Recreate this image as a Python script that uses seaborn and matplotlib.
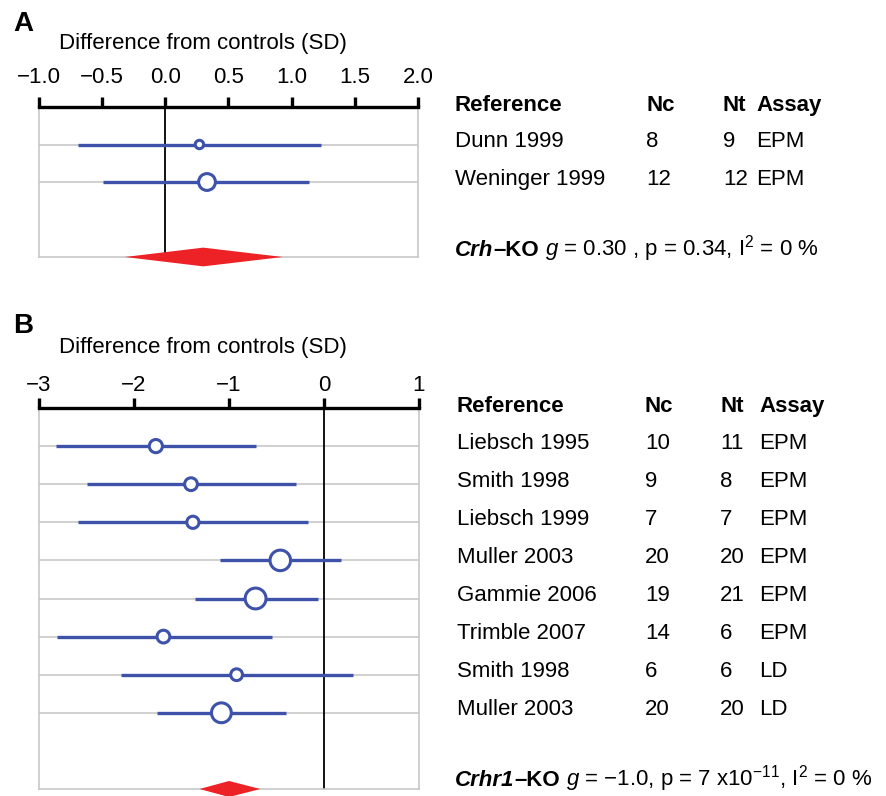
import matplotlib
matplotlib.use("Agg")
import matplotlib.pyplot as plt
import matplotlib.transforms as mtransforms
import numpy as np
import pandas as pd
import seaborn as sns

# Panel A: Crh-KO
refs_a = ["Dunn 1999", "Weninger 1999"]
nc_a = [8, 12]
nt_a = [9, 12]
assay_a = ["EPM", "EPM"]
g_a = [0.27, 0.33]
lo_a = [-0.69, -0.49]
hi_a = [1.235, 1.14]
w_a = [20, 80]                 # relative weight (%)
pooled_a = (-0.32, 0.30, 0.93)  # lower, g, upper
ticks_a = [-1.0, -0.5, 0.0, 0.5, 1.0, 1.5, 2.0]
ticklabels_a = ["\u22121.0", "\u22120.5", "0.0", "0.5", "1.0", "1.5", "2.0"]

# Panel B: Crhr1-KO
refs_b = ["Liebsch 1995", "Smith 1998", "Liebsch 1999", "Muller 2003",
          "Gammie 2006", "Trimble 2007", "Smith 1998", "Muller 2003"]
nc_b = [10, 9, 7, 20, 19, 14, 6, 20]
nt_b = [11, 8, 7, 20, 21, 6, 6, 20]
assay_b = ["EPM", "EPM", "EPM", "EPM", "EPM", "EPM", "LD", "LD"]
g_b = [-1.77, -1.40, -1.38, -0.46, -0.72, -1.69, -0.92, -1.08]
lo_b = [-2.82, -2.49, -2.59, -1.10, -1.36, -2.81, -2.14, -1.76]
hi_b = [-0.72, -0.29, -0.17, 0.18, -0.06, -0.55, 0.31, -0.40]
w_b = [8.5, 8.0, 7.3, 20.7, 21.3, 8.0, 6.8, 19.3]
pooled_b = (-1.31, -1.00, -0.67)
ticks_b = [-3, -2, -1, 0, 1]
ticklabels_b = ["\u22123", "\u22122", "\u22121", "0", "1"]

BLUE = "#3d52a8"
RED = "#ed2226"
GRID = "#c4c4c4"

sns.set_theme(style="white")
plt.rcParams['font.family'] = ['Liberation Sans', 'DejaVu Sans']
plt.rcParams['text.color'] = 'black'
plt.rcParams['xtick.color'] = 'black'
plt.rcParams['mathtext.fontset'] = 'custom'
plt.rcParams['mathtext.rm'] = 'Liberation Sans'
plt.rcParams['mathtext.it'] = 'Liberation Sans:italic'
plt.rcParams['mathtext.bf'] = 'Liberation Sans:bold'

W, H = 886, 796
fig = plt.figure(figsize=(W / 100, H / 100), dpi=100)


def axes_px(left, top, right, bottom):
    return fig.add_axes([left / W, 1 - bottom / H, (right - left) / W, (bottom - top) / H])


def forest(ax, g, lo, hi, w, wscale, pooled, xlim, ticks, ticklabels, pad, dh):
    n = len(g)
    rows = np.arange(1, n + 1)
    ax.hlines(rows, xlim[0], xlim[1], color=GRID, lw=1.1, zorder=0)
    ax.axvline(0, color='black', lw=1.3, zorder=1)
    ax.hlines(rows, lo, hi, color=BLUE, lw=2.4, zorder=2)
    df = pd.DataFrame({'g': g, 'row': rows, 'w': w})
    sns.scatterplot(data=df, x='g', y='row', size='w', sizes=(0, 100 * wscale),
                    size_norm=(0, 100), facecolor='white', edgecolor=BLUE,
                    linewidth=2.2, legend=False, zorder=3, ax=ax)
    # pooled estimate diamond on the bottom line
    yb = n + 2
    ax.fill([pooled[0], pooled[1], pooled[2], pooled[1]], [yb, yb - dh, yb, yb + dh],
            color=RED, lw=0, zorder=4, clip_on=False)
    ax.set_xlim(xlim)
    ax.set_ylim(n + 2, 0)
    ax.set_xlabel('')
    ax.set_ylabel('')
    ax.set_yticks([])
    ax.set_xticks(ticks)
    ax.set_xticklabels(ticklabels)
    ax.xaxis.set_ticks_position('top')
    ax.tick_params(axis='x', direction='out', length=7.2, width=2.4, color='black',
                   labelsize=16, pad=pad, top=True, bottom=False,
                   labeltop=True, labelbottom=False)
    for s in ['left', 'right', 'bottom']:
        ax.spines[s].set(color=GRID, lw=1.1, visible=True)
    ax.spines['top'].set(color='black', lw=2.4, visible=True, zorder=5)


def table(ax, refs, nc, nt, assay, cols):
    tr = mtransforms.blended_transform_factory(fig.transFigure, ax.transData)
    for x, h in zip(cols, ["Reference", "Nc", "Nt", "Assay"]):
        ax.text(x / W, 0.1, h, transform=tr, fontsize=16, fontweight='bold', va='baseline')
    for i, vals in enumerate(zip(refs, nc, nt, assay)):
        for x, v in zip(cols, vals):
            ax.text(x / W, i + 1.07, str(v), transform=tr, fontsize=16, va='baseline')


def rich(x, y, parts):
    r = fig.canvas.get_renderer()
    x = x / W
    for s, weight, style in parts:
        t = fig.text(x, 1 - y / H, s, fontsize=16, fontweight=weight, fontstyle=style, va='baseline')
        bb = t.get_window_extent(r)
        x = bb.x1 / W


# Panel A
ax_a = axes_px(39, 107, 418, 257)
forest(ax_a, g_a, lo_a, hi_a, w_a, 1.83, pooled_a, (-1.0, 2.0), ticks_a, ticklabels_a, 6.7, 0.25)
table(ax_a, refs_a, nc_a, nt_a, assay_a, [455, 646, 723, 756])
fig.text(13 / W, 1 - 31 / H, "A", fontsize=20, fontweight='bold', va='baseline')
fig.text(59 / W, 1 - 49 / H, "Difference from controls (SD)", fontsize=16, va='baseline')
rich(455, 256, [("Crh", 'bold', 'italic'), ("\u2013KO", 'bold', 'normal'),
                (" $g$ = 0.30 , p = 0.34, I$^{2}$ = 0 %", 'normal', 'normal')])

# Panel B
ax_b = axes_px(39, 408, 419, 789)
forest(ax_b, g_b, lo_b, hi_b, w_b, 10.57, pooled_b, (-3, 1), ticks_b, ticklabels_b, 1.2, 0.21)
table(ax_b, refs_b, nc_b, nt_b, assay_b, [457, 645, 720, 759])
fig.text(13 / W, 1 - 333 / H, "B", fontsize=20, fontweight='bold', va='baseline')
fig.text(59 / W, 1 - 353 / H, "Difference from controls (SD)", fontsize=16, va='baseline')
rich(455, 786, [("Crhr1", 'bold', 'italic'), ("\u2013KO", 'bold', 'normal'),
                (" $g$ = \u22121.0, p = 7 x10$^{-11}$, I$^{2}$ = 0 %", 'normal', 'normal')])

fig.savefig("out.png", dpi=100)
